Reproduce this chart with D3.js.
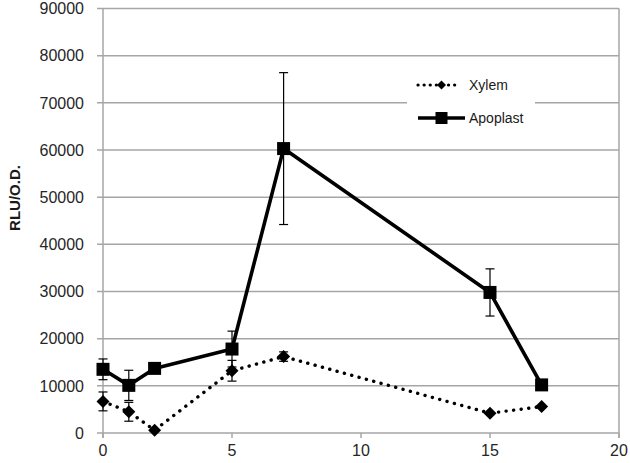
<!DOCTYPE html>
<html>
<head>
<meta charset="utf-8">
<script src="https://cdn.jsdelivr.net/npm/d3@7"></script>
<style>
html,body{margin:0;padding:0;background:#fff;}
svg{display:block;font-family:"Liberation Sans",Arial,sans-serif;}
</style>
</head>
<body>
<svg id="chart" width="630" height="463"></svg>
<script>
// Data
const xValues = [0, 1, 2, 5, 7, 15, 17];
const xylemValues = [6700, 4500, 600, 13200, 16200, 4200, 5600];
const xylemErrors = [2000, 2000, 0, 2200, 1000, 0, 0];
const apoplastValues = [13500, 10100, 13700, 17800, 60300, 29800, 10200];
const apoplastErrors = [2200, 3200, 0, 3800, 16100, 5000, 0];
const yTicks = [0, 10000, 20000, 30000, 40000, 50000, 60000, 70000, 80000, 90000];
const xTicks = [0, 5, 10, 15, 20];
const seriesNames = ["Xylem", "Apoplast"];
const yLabel = "RLU/O.D.";

const svg = d3.select("#chart");
const mLeft = 103, mRight = 619, mTop = 8.5, mBottom = 433;
const x = d3.scaleLinear().domain([0, 20]).range([mLeft, mRight]);
const y = d3.scaleLinear().domain([0, 90000]).range([mBottom, mTop]);
const grid = "#a6a6a6";

// gridlines
svg.append("g").selectAll("line").data(yTicks).join("line")
  .attr("x1", mLeft - 6).attr("x2", mRight)
  .attr("y1", d => y(d)).attr("y2", d => y(d))
  .attr("stroke", grid).attr("stroke-width", 1.5);

// right border
svg.append("line").attr("x1", mRight).attr("x2", mRight).attr("y1", mTop).attr("y2", mBottom + 5)
  .attr("stroke", grid).attr("stroke-width", 1.5);

// Y axis line
svg.append("line").attr("x1", mLeft).attr("x2", mLeft).attr("y1", mTop).attr("y2", mBottom + 5)
  .attr("stroke", grid).attr("stroke-width", 1.5);

// X axis ticks
svg.append("g").selectAll("line").data(xTicks).join("line")
  .attr("x1", d => x(d)).attr("x2", d => x(d))
  .attr("y1", mBottom).attr("y2", mBottom + 5)
  .attr("stroke", grid).attr("stroke-width", 1.5);

// Y tick labels
svg.append("g").selectAll("text").data(yTicks).join("text")
  .attr("x", mLeft - 19).attr("y", d => y(d)).attr("dy", "0.36em")
  .attr("text-anchor", "end").attr("font-size", 16).attr("fill", "#262626")
  .text(d => d);

// X tick labels
svg.append("g").selectAll("text").data(xTicks).join("text")
  .attr("x", d => x(d)).attr("y", mBottom + 23)
  .attr("text-anchor", "middle").attr("font-size", 16).attr("fill", "#262626")
  .text(d => d);

// Y label
svg.append("text").attr("transform", `translate(20,198) rotate(-90)`)
  .attr("text-anchor", "middle").attr("font-size", 15).attr("font-weight", "bold")
  .attr("fill", "#1a1a1a").text(yLabel);

const xyl = xValues.map((d, i) => ({x: d, y: xylemValues[i], e: xylemErrors[i]}));
const apo = xValues.map((d, i) => ({x: d, y: apoplastValues[i], e: apoplastErrors[i]}));

function errorBars(data) {
  const g = svg.append("g").attr("stroke", "#000").attr("stroke-width", 1.2);
  data.filter(d => d.e > 0).forEach(d => {
    g.append("line").attr("x1", x(d.x)).attr("x2", x(d.x)).attr("y1", y(d.y + d.e)).attr("y2", y(d.y - d.e));
    g.append("line").attr("x1", x(d.x) - 4.5).attr("x2", x(d.x) + 4.5).attr("y1", y(d.y + d.e)).attr("y2", y(d.y + d.e));
    g.append("line").attr("x1", x(d.x) - 4.5).attr("x2", x(d.x) + 4.5).attr("y1", y(d.y - d.e)).attr("y2", y(d.y - d.e));
  });
}

const line = d3.line().x(d => x(d.x)).y(d => y(d.y));
const diamondPath = "M0,-6.5L6.5,0L0,6.5L-6.5,0Z";

// Xylem
svg.append("path").datum(xyl).attr("d", line).attr("fill", "none")
  .attr("stroke", "#000").attr("stroke-width", 3.4).attr("stroke-linecap", "round")
  .attr("stroke-dasharray", "0.1 7.5");
errorBars(xyl);
svg.append("g").selectAll("path").data(xyl).join("path")
  .attr("transform", d => `translate(${x(d.x)},${y(d.y)})`)
  .attr("d", diamondPath).attr("fill", "#000");

// Apoplast
svg.append("path").datum(apo).attr("d", line).attr("fill", "none")
  .attr("stroke", "#000").attr("stroke-width", 3.6).attr("stroke-linejoin", "round");
errorBars(apo);
svg.append("g").selectAll("rect").data(apo).join("rect")
  .attr("x", d => x(d.x) - 6.5).attr("y", d => y(d.y) - 6.5)
  .attr("width", 13).attr("height", 13).attr("fill", "#000");

// Legend
const lg = svg.append("g");
lg.append("rect").attr("x", 407).attr("y", 68).attr("width", 128).attr("height", 70).attr("fill", "#fff");
const ly = [85, 118];
lg.append("line").attr("x1", 418).attr("x2", 460).attr("y1", ly[0]).attr("y2", ly[0])
  .attr("stroke", "#000").attr("stroke-width", 3.2).attr("stroke-linecap", "round").attr("stroke-dasharray", "0.1 6");
lg.append("path").attr("transform", `translate(441.5,${ly[0]})`).attr("d", "M0,-4.5L4.5,0L0,4.5L-4.5,0Z").attr("fill", "#000");
lg.append("line").attr("x1", 418).attr("x2", 465).attr("y1", ly[1]).attr("y2", ly[1])
  .attr("stroke", "#000").attr("stroke-width", 3.6);
lg.append("rect").attr("x", 441.5 - 6).attr("y", ly[1] - 6).attr("width", 12).attr("height", 12).attr("fill", "#000");
lg.selectAll("text").data(seriesNames).join("text")
  .attr("x", 469).attr("y", (d, i) => ly[i]).attr("dy", "0.36em")
  .attr("font-size", 14).attr("fill", "#1a1a1a").text(d => d);
</script>
</body>
</html>
